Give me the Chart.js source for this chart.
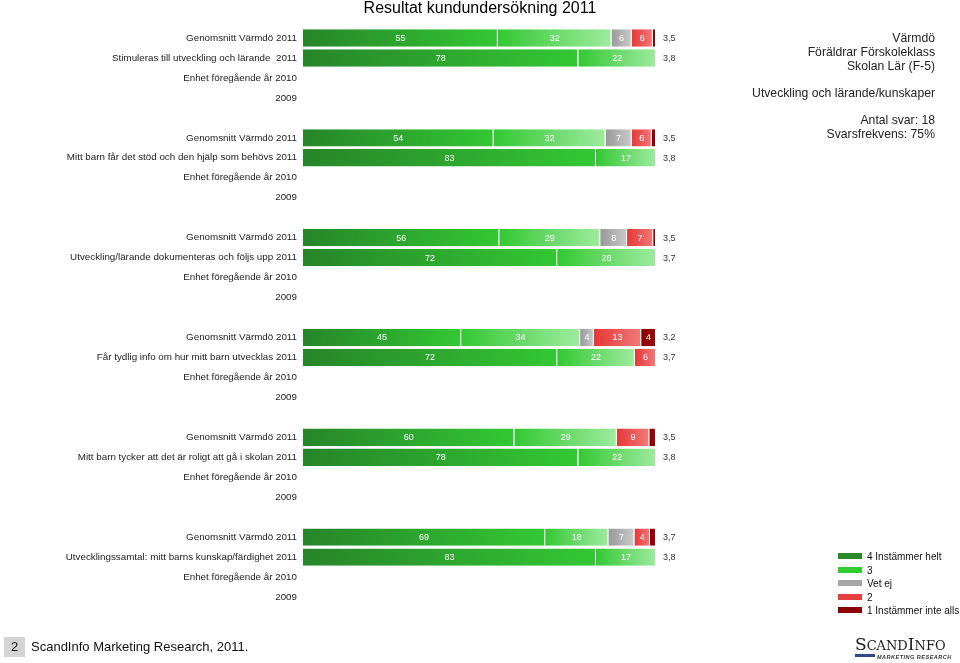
<!DOCTYPE html>
<html>
<head>
<meta charset="utf-8">
<script src="https://cdn.jsdelivr.net/npm/chart.js@4.4.1/dist/chart.umd.min.js"></script>
<style>
    body { margin: 0; background: #fff; font-family: "Liberation Sans", Arial, sans-serif; }
    #wrap { position: relative; width: 960px; height: 663px; overflow: hidden; }
    #chart { position: absolute; left: 0; top: 0; }
    .title { position: absolute; left: 0; width: 960px; top: -1px; line-height: 18px; text-align: center; font-size: 16px; color: #000; }
    .info { position: absolute; right: 25px; top: 31px; text-align: right; font-size: 12.2px; line-height: 14px; color: #222; }
    .info p { margin: 0 0 13px 0; }
    .legend { position: absolute; left: 838px; top: 550px; font-size: 10px; color: #111; }
    .legend div { height: 13.5px; line-height: 13.5px; white-space: nowrap; }
    .legend span { display: inline-block; width: 24px; height: 6px; margin-right: 5px; vertical-align: middle; position: relative; top: -1px; }
    .footer { position: absolute; left: 4px; top: 637px; font-size: 13px; color: #111; }
    .footer .page { display: inline-block; width: 21px; height: 20px; line-height: 20px; background: #d4d4d4; text-align: center; margin-right: 6px; }
    .logo { position: absolute; left: 855px; top: 636px; color: #1d1d1d; }
    .logo .name { font-family: "DejaVu Serif", serif; font-size: 17px; line-height: 16px; }
    .logo .name small { font-size: 13px; }
    .logo .sub { font-size: 5.5px; font-style: italic; font-weight: bold; color: #333; margin-left: 22px; letter-spacing: 0.5px; position: relative; }
    .logo .bar { position: absolute; left: 0; top: 18px; width: 20px; height: 3px; background: #2a4a8a; }
</style>
</head>
<body>
<div id="wrap">
    <canvas id="chart" width="960" height="663"></canvas>
    <div class="title">Resultat kundundersökning 2011</div>
    <div class="info">
        <p>Värmdö<br>Föräldrar Förskoleklass<br>Skolan Lär (F-5)</p>
        <p>Utveckling och lärande/kunskaper</p>
        <p>Antal svar: 18<br>Svarsfrekvens: 75%</p>
    </div>
    <div class="legend">
        <div><span style="background:#2a8a2a"></span>4 Instämmer helt</div>
        <div><span style="background:#33cc33"></span>3</div>
        <div><span style="background:#a6a6a6"></span>Vet ej</div>
        <div><span style="background:#e84040"></span>2</div>
        <div><span style="background:#8b0000"></span>1 Instämmer inte alls</div>
    </div>
    <div class="footer"><span class="page">2</span>ScandInfo Marketing Research, 2011.</div>
    <div class="logo">
        <div class="name">S<small>CAND</small>I<small>NFO</small></div>
        <div class="bar"></div>
        <div class="sub">MARKETING RESEARCH</div>
    </div>
</div>
<script>
// Questions (unit row label gets " 2011" appended)
const questions = [
    'Stimuleras till utveckling och lärande ',
    'Mitt barn får det stöd och den hjälp som behövs',
    'Utveckling/lärande dokumenteras och följs upp',
    'Får tydlig info om hur mitt barn utvecklas',
    'Mitt barn tycker att det är roligt att gå i skolan',
    'Utvecklingssamtal: mitt barns kunskap/färdighet'
];

// Genomsnitt Värmdö 2011 (percent)
const avgHelt     = [55.2, 54.0, 55.6, 44.8, 59.9, 68.6];
const avgThree    = [32.2, 31.7, 28.6, 33.7, 29.0, 17.9];
const avgVetEj    = [5.7, 7.4, 7.6, 3.9, 0, 7.4];
const avgTwo      = [6.0, 5.7, 7.4, 13.4, 9.2, 4.4];
const avgInteAlls = [0.9, 1.2, 0.8, 4.2, 1.9, 1.7];
const avgMean     = ['3,5', '3,5', '3,5', '3,2', '3,5', '3,7'];

// Unit 2011 (percent)
const unitHelt     = [78, 83, 72, 72, 78, 83];
const unitThree    = [22, 17, 28, 22, 22, 17];
const unitVetEj    = [0, 0, 0, 0, 0, 0];
const unitTwo      = [0, 0, 0, 6, 0, 0];
const unitInteAlls = [0, 0, 0, 0, 0, 0];
const unitMean     = ['3,8', '3,8', '3,7', '3,7', '3,8', '3,8'];

// Build the 29 category rows: 4 rows per question plus a blank spacer
const labels = [];
const means = [];
function rows(avg, unit) {
    const out = [];
    questions.forEach((q, i) => {
        out.push(avg[i] || null, unit[i] || null, null, null);
        if (i < questions.length - 1) out.push(null);
    });
    return out;
}
questions.forEach((q, i) => {
    labels.push('Genomsnitt Värmdö 2011', q + ' 2011', 'Enhet föregående år 2010', '2009');
    means.push(avgMean[i], unitMean[i], '', '');
    if (i < questions.length - 1) { labels.push(''); means.push(''); }
});

const series = [
    { label: '4 Instämmer helt', data: rows(avgHelt, unitHelt), from: '#27852a', to: '#33c833' },
    { label: '3', data: rows(avgThree, unitThree), from: '#33c833', to: '#9eeb9e' },
    { label: 'Vet ej', data: rows(avgVetEj, unitVetEj), from: '#999999', to: '#cacaca' },
    { label: '2', data: rows(avgTwo, unitTwo), from: '#e63636', to: '#f27a7a' },
    { label: '1 Instämmer inte alls', data: rows(avgInteAlls, unitInteAlls), from: '#8b0000', to: '#9a0a0a' }
];

// Horizontal gradient across each segment
function segmentFill(ctx) {
    const chart = ctx.chart;
    const s = series[ctx.datasetIndex];
    if (!chart.chartArea || !chart.scales.x) return s.from;
    const i = ctx.dataIndex;
    let start = 0;
    for (let d = 0; d < ctx.datasetIndex; d++) start += series[d].data[i] || 0;
    const end = start + (series[ctx.datasetIndex].data[i] || 0);
    const x0 = chart.scales.x.getPixelForValue(start);
    const x1 = chart.scales.x.getPixelForValue(end);
    if (!(x1 > x0)) return s.from;
    const g = chart.ctx.createLinearGradient(x0, 0, x1, 0);
    g.addColorStop(0, s.from);
    g.addColorStop(1, s.to);
    return g;
}

// Value labels inside segments and mean values at the right
const barLabels = {
    id: 'barLabels',
    afterDatasetsDraw(chart) {
        const ctx = chart.ctx;
        ctx.save();
        ctx.font = '9px "Liberation Sans", Arial, sans-serif';
        ctx.textBaseline = 'middle';
        ctx.textAlign = 'center';
        ctx.fillStyle = '#ffffff';
        chart.data.datasets.forEach((ds, di) => {
            chart.getDatasetMeta(di).data.forEach((bar, i) => {
                const v = ds.data[i];
                if (!v || v < 3) return;
                ctx.fillText(Math.round(v), (bar.x + bar.base) / 2, bar.y + 0.5);
            });
        });
        ctx.textAlign = 'left';
        ctx.fillStyle = '#333333';
        const y = chart.scales.y;
        means.forEach((m, i) => {
            if (m) ctx.fillText(m, chart.chartArea.right + 7, y.getPixelForValue(i) + 0.5);
        });
        ctx.restore();
    }
};

new Chart(document.getElementById('chart'), {
    type: 'bar',
    data: {
        labels: labels,
        datasets: series.map(s => ({
            label: s.label,
            data: s.data,
            backgroundColor: segmentFill,
            borderColor: '#ffffff',
            borderWidth: { left: 0, top: 0, bottom: 0, right: 1 },
            borderSkipped: false,
            categoryPercentage: 1,
            barPercentage: 0.87
        }))
    },
    options: {
        indexAxis: 'y',
        responsive: false,
        animation: false,
        layout: { padding: { left: 0, right: 304, top: 28, bottom: 56 } },
        scales: {
            x: {
                stacked: true,
                display: false,
                min: 0,
                max: 100
            },
            y: {
                stacked: true,
                afterFit: scale => { scale.width = 303; },
                grid: { display: false, drawTicks: false },
                border: { display: false },
                ticks: {
                    autoSkip: false,
                    padding: 6,
                    color: '#222',
                    font: { family: '"Liberation Sans", Arial, sans-serif', size: 9.8 }
                }
            }
        },
        plugins: {
            legend: { display: false },
            tooltip: { enabled: false }
        }
    },
    plugins: [barLabels]
});
</script>
</body>
</html>
